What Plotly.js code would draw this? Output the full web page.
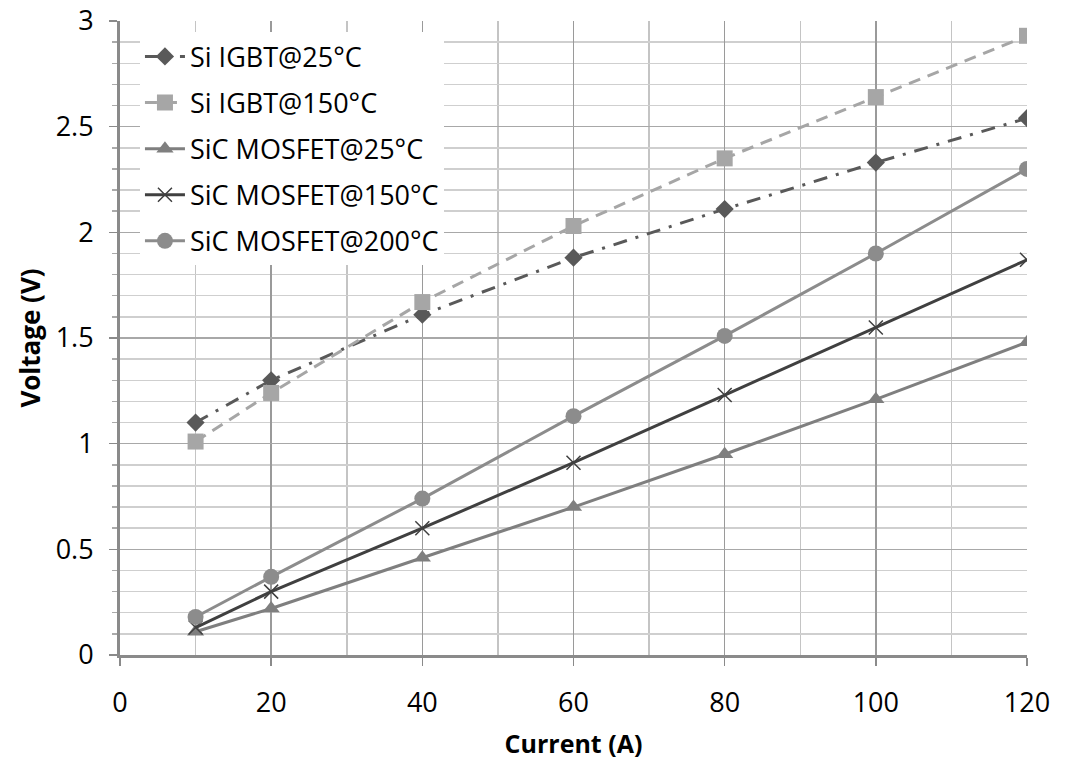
<!DOCTYPE html>
<html><head><meta charset="utf-8">
<script src="https://cdn.plot.ly/plotly-3.0.1.min.js"></script>
<style>body{margin:0;background:#fff}#chart{width:1065px;height:764px}</style>
</head><body><div id="chart"></div>
<script>
const current = [10, 20, 40, 60, 80, 100, 120];
const siIgbt25 = [1.10, 1.30, 1.61, 1.88, 2.11, 2.33, 2.54];
const siIgbt150 = [1.01, 1.24, 1.67, 2.03, 2.35, 2.64, 2.93];
const sicMos25 = [0.11, 0.22, 0.46, 0.70, 0.95, 1.21, 1.48];
const sicMos150 = [0.13, 0.30, 0.60, 0.91, 1.23, 1.55, 1.87];
const sicMos200 = [0.18, 0.37, 0.74, 1.13, 1.51, 1.90, 2.30];
const names = ['Si IGBT@25°C', 'Si IGBT@150°C', 'SiC MOSFET@25°C', 'SiC MOSFET@150°C', 'SiC MOSFET@200°C'];

const traces = [
  {x: current, y: siIgbt25, name: names[0], legendgroup: 'a', mode: 'lines+markers',
   line: {color: '#595959', width: 3, dash: '14px,9px,3px,9px'},
   marker: {symbol: 'diamond', size: 14, color: '#595959'}},
  {x: current, y: siIgbt150, name: names[1], legendgroup: 'b', mode: 'lines+markers',
   line: {color: '#a6a6a6', width: 3, dash: '12px,8px'},
   marker: {symbol: 'square', size: 16, color: '#a6a6a6'}},
  {x: current, y: sicMos25, name: names[2], legendgroup: 'c', mode: 'lines+markers',
   line: {color: '#7f7f7f', width: 3},
   marker: {symbol: 'triangle-up', size: 15, color: '#7f7f7f'}},
  {x: current, y: sicMos150, name: names[3], legendgroup: 'd', mode: 'lines+markers',
   line: {color: '#404040', width: 3},
   marker: {symbol: 'x-thin-open', size: 14, color: '#404040', line: {width: 1.5, color: '#404040'}}},
  {x: current, y: sicMos200, name: names[4], legendgroup: 'e', mode: 'lines+markers',
   line: {color: '#8c8c8c', width: 3},
   marker: {symbol: 'circle', size: 16, color: '#8c8c8c'}}
];

const font = 'Open Sans, Liberation Sans, sans-serif';
const layout = {
  width: 1065, height: 764,
  margin: {l: 120, r: 38, t: 21, b: 109},
  paper_bgcolor: '#fff', plot_bgcolor: '#fff',
  font: {family: font, color: '#000'},
  showlegend: true,
  legend: {x: 0.022, y: 0.982, xanchor: 'left', yanchor: 'top',
           bgcolor: '#fff', font: {size: 27, color: '#000', family: font},
           tracegroupgap: 8, itemwidth: 40},
  xaxis: {range: [0, 120], dtick: 20, tick0: 0,
          showgrid: true, gridcolor: '#9a9a9a', gridwidth: 1.5,
          minor: {dtick: 10, showgrid: true, gridcolor: '#c4c4c4', gridwidth: 1.5},
          showline: true, linecolor: '#8a8a8a', linewidth: 3,
          ticks: 'outside', ticklen: 8, tickcolor: '#8a8a8a', tickwidth: 1.5,
          ticklabelstandoff: 14,
          tickfont: {size: 27, family: font},
          zeroline: false,
          title: {text: '<b>Current (A)</b>', font: {size: 25, family: font}, standoff: 17}},
  yaxis: {range: [0, 3], dtick: 0.5, tick0: 0,
          showgrid: true, gridcolor: '#a8a8a8', gridwidth: 1.5,
          minor: {dtick: 0.1, showgrid: true, gridcolor: '#cfcfcf', gridwidth: 1.5,
                  ticks: 'outside', ticklen: 5, tickcolor: '#aaaaaa'},
          showline: true, linecolor: '#8a8a8a', linewidth: 3,
          ticks: 'outside', ticklen: 8, tickcolor: '#8a8a8a', tickwidth: 1.5,
          ticklabelstandoff: 10,
          tickfont: {size: 27, family: font},
          zeroline: false,
          title: {text: '<b>Voltage (V)</b>', font: {size: 26, family: font}, standoff: 8}}
};

Plotly.newPlot('chart', traces, layout, {displayModeBar: false, staticPlot: true});
</script></body></html>
